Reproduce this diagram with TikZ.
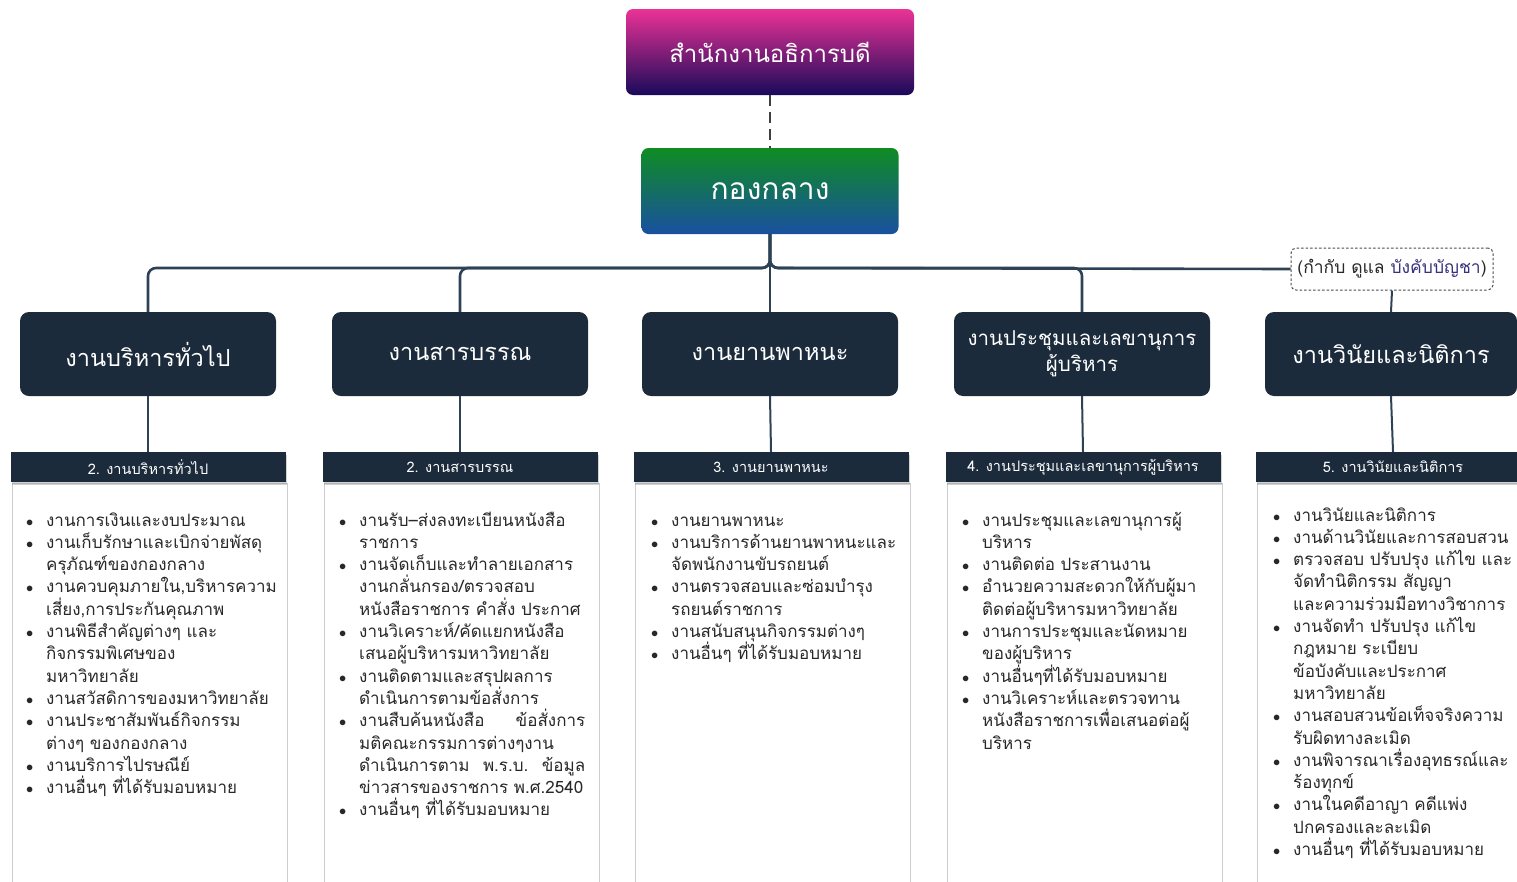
\documentclass[tikz,border=0pt]{standalone}
\usepackage{fontspec}
\newfontfamily\thai[Script=Thai]{Loma}
\usetikzlibrary{positioning,calc,shadows}
\definecolor{navy}{RGB}{28,43,59}
\definecolor{busCol}{RGB}{45,66,84}
\definecolor{txtCol}{RGB}{40,40,40}
\definecolor{topPink}{RGB}{235,50,150}
\definecolor{topMid}{RGB}{150,25,150}
\definecolor{topNavy}{RGB}{25,10,90}
\definecolor{kkGreen}{RGB}{15,140,35}
\definecolor{kkMid}{RGB}{15,110,95}
\definecolor{kkBlue}{RGB}{25,80,160}
\definecolor{panelEdge}{RGB}{205,205,205}
\definecolor{noteCol}{RGB}{55,50,125}
\newcommand{\itemfont}{\thai\fontsize{17}{22.3}\selectfont
  \setlength{\lineskiplimit}{-30pt}\setlength{\parindent}{0pt}}
\tikzset{
  topbox/.style={rounded corners=7pt,text=white,align=center,inner sep=0pt,
                 minimum width=288pt,minimum height=86pt,
                 top color=topPink,middle color=topMid,bottom color=topNavy,
                 font=\thai\fontsize{24}{28}\selectfont},
  kkbox/.style={topbox,minimum width=257pt,top color=kkGreen,middle color=kkMid,
                bottom color=kkBlue,font=\thai\fontsize{30}{34}\selectfont},
  unit/.style={rounded corners=9pt,fill=navy,text=white,align=center,inner sep=0pt,
               minimum width=256pt,minimum height=84pt,
               font=\thai\fontsize{23.5}{27}\selectfont},
  headbar/.style={fill=navy,text=white,inner sep=0pt,minimum width=275pt,
                  minimum height=30pt,font=\thai\fontsize{14.5}{17}\selectfont,
                  drop shadow={shadow xshift=1pt,shadow yshift=-3pt,opacity=0.35}},
  panel/.style={draw=panelEdge,fill=white,inner sep=0pt,minimum width=275pt,
                minimum height=405pt,anchor=north},
  items/.style={anchor=base west,inner sep=0pt,align=left,text width=262pt,text=txtCol,
                font=\itemfont},
  note/.style={draw=black!70,line width=1pt,dash pattern=on 2.5pt off 2pt,rounded corners=5pt,
               fill=white,inner sep=0pt,minimum width=202pt,minimum height=42pt,text=txtCol,
               font=\thai\fontsize{17.5}{20}\selectfont},
  bus/.style={draw=busCol,line width=2.6pt,rounded corners=8pt},
  drop/.style={draw=busCol,line width=2pt},
  dashline/.style={draw=black!75,line width=2pt,dash pattern=on 11pt off 6pt},
}
\newcommand{\bul}{\leavevmode\llap{{\fontsize{15}{15}\selectfont$\bullet$}\hspace{13pt}}}

\begin{document}
\begin{tikzpicture}[x=1pt,y=-1pt]
\useasboundingbox (0,0) rectangle (1517,881);
% top of the chart
\node[topbox] (rector) at (770,52) {สำนักงานอธิการบดี};
\node[kkbox] (kk) at (770,191) {กองกลาง};
\draw[dashline] (rector) -- (kk);
\coordinate (hub) at (770,268);
\node[note] (ctrl) at (1392,269) {(กำกับ ดูแล {\color{noteCol}บังคับบัญชา})};

% units
\node[unit] (u1) at (148,354) {งานบริหารทั่วไป};
\node[unit] (u2) at (460,354) {งานสารบรรณ};
\node[unit] (u3) at (770,354) {งานยานพาหนะ};
\node[unit,font=\thai\fontsize{20.5}{26}\selectfont] (u4) at (1082,354) {งานประชุมและเลขานุการ\\ผู้บริหาร};
\node[unit,minimum width=252pt] (u5) at (1391,354) {งานวินัยและนิติการ};

\draw[bus] (u1.north) |- (hub) -- (kk.south);
\draw[bus] (u2.north) |- (hub) -- (kk.south);
\draw[bus] (u4.north) |- (hub) -- (kk.south);
\draw[bus] (ctrl.west) -- (hub) -- (kk.south);
\draw[bus] (kk.south) -- (u3.north);
\draw[drop] (ctrl.south) -- (u5.north);

% panels and headers
\node[panel] (p1) at (149.5,483) {};
\node[panel] (p2) at (462,483) {};
\node[panel] (p3) at (773,483) {};
\node[panel] (p4) at (1085,483) {};
\node[panel] (p5) at (1395,483) {};
\node[headbar] (h1) at (148,467) {2. งานบริหารทั่วไป};
\node[headbar] (h2) at (460,467) {2. งานสารบรรณ};
\node[headbar] (h3) at (771,467) {3. งานยานพาหนะ};
\node[headbar] (h4) at (1083,467) {4. งานประชุมและเลขานุการผู้บริหาร};
\node[headbar] (h5) at (1393,467) {5. งานวินัยและนิติการ};
\foreach \i in {1,...,5} \draw[drop] (u\i.south) -- (h\i.north);

% task lists
\node[items] (t1) at (46,526) {%
\bul งานการเงินและงบประมาณ\\
\bul งานเก็บรักษาและเบิกจ่ายพัสดุ\\
ครุภัณฑ์ของกองกลาง\\
\bul งานควบคุมภายใน,บริหารความ\\
เสี่ยง,การประกันคุณภาพ\\
\bul งานพิธีสำคัญต่างๆ และ\\
กิจกรรมพิเศษของ\\
มหาวิทยาลัย\\
\bul งานสวัสดิการของมหาวิทยาลัย\\
\bul งานประชาสัมพันธ์กิจกรรม\\
ต่างๆ ของกองกลาง\\
\bul งานบริการไปรษณีย์\\
\bul งานอื่นๆ ที่ได้รับมอบหมาย};

\node[items] (t2) at (359,526) {%
\bul งานรับ–ส่งลงทะเบียนหนังสือ\\
ราชการ\\
\bul งานจัดเก็บและทำลายเอกสาร\\
งานกลั่นกรอง/ตรวจสอบ\\
หนังสือราชการ คำสั่ง ประกาศ\\
\bul งานวิเคราะห์/คัดแยกหนังสือ\\
เสนอผู้บริหารมหาวิทยาลัย\\
\bul งานติดตามและสรุปผลการ\\
ดำเนินการตามข้อสั่งการ\\
\bul \makebox[226pt][l]{งานสืบค้นหนังสือ\hfill ข้อสั่งการ}\\
มติคณะกรรมการต่างๆงาน\\
\leavevmode\makebox[226pt][l]{ดำเนินการตาม\hfill พ.ร.บ.\hfill ข้อมูล}\\
ข่าวสารของราชการ พ.ศ.2540\\
\bul งานอื่นๆ ที่ได้รับมอบหมาย};

\node[items] (t3) at (671,526) {%
\bul งานยานพาหนะ\\
\bul งานบริการด้านยานพาหนะและ\\
จัดพนักงานขับรถยนต์\\
\bul งานตรวจสอบและซ่อมบำรุง\\
รถยนต์ราชการ\\
\bul งานสนับสนุนกิจกรรมต่างๆ\\
\bul งานอื่นๆ ที่ได้รับมอบหมาย};

\node[items] (t4) at (982,526) {%
\bul งานประชุมและเลขานุการผู้\\
บริหาร\\
\bul งานติดต่อ ประสานงาน\\
\bul อำนวยความสะดวกให้กับผู้มา\\
ติดต่อผู้บริหารมหาวิทยาลัย\\
\bul งานการประชุมและนัดหมาย\\
ของผู้บริหาร\\
\bul งานอื่นๆที่ได้รับมอบหมาย\\
\bul งานวิเคราะห์และตรวจทาน\\
หนังสือราชการเพื่อเสนอต่อผู้\\
บริหาร};

\node[items] (t5) at (1293,521) {%
\bul งานวินัยและนิติการ\\
\bul งานด้านวินัยและการสอบสวน\\
\bul ตรวจสอบ ปรับปรุง แก้ไข และ\\
จัดทำนิติกรรม สัญญา\\
และความร่วมมือทางวิชาการ\\
\bul งานจัดทำ ปรับปรุง แก้ไข\\
กฎหมาย ระเบียบ\\
ข้อบังคับและประกาศ\\
มหาวิทยาลัย\\
\bul งานสอบสวนข้อเท็จจริงความ\\
รับผิดทางละเมิด\\
\bul งานพิจารณาเรื่องอุทธรณ์และ\\
ร้องทุกข์\\
\bul งานในคดีอาญา คดีแพ่ง\\
ปกครองและละเมิด\\
\bul งานอื่นๆ ที่ได้รับมอบหมาย};
\end{tikzpicture}
\end{document}
